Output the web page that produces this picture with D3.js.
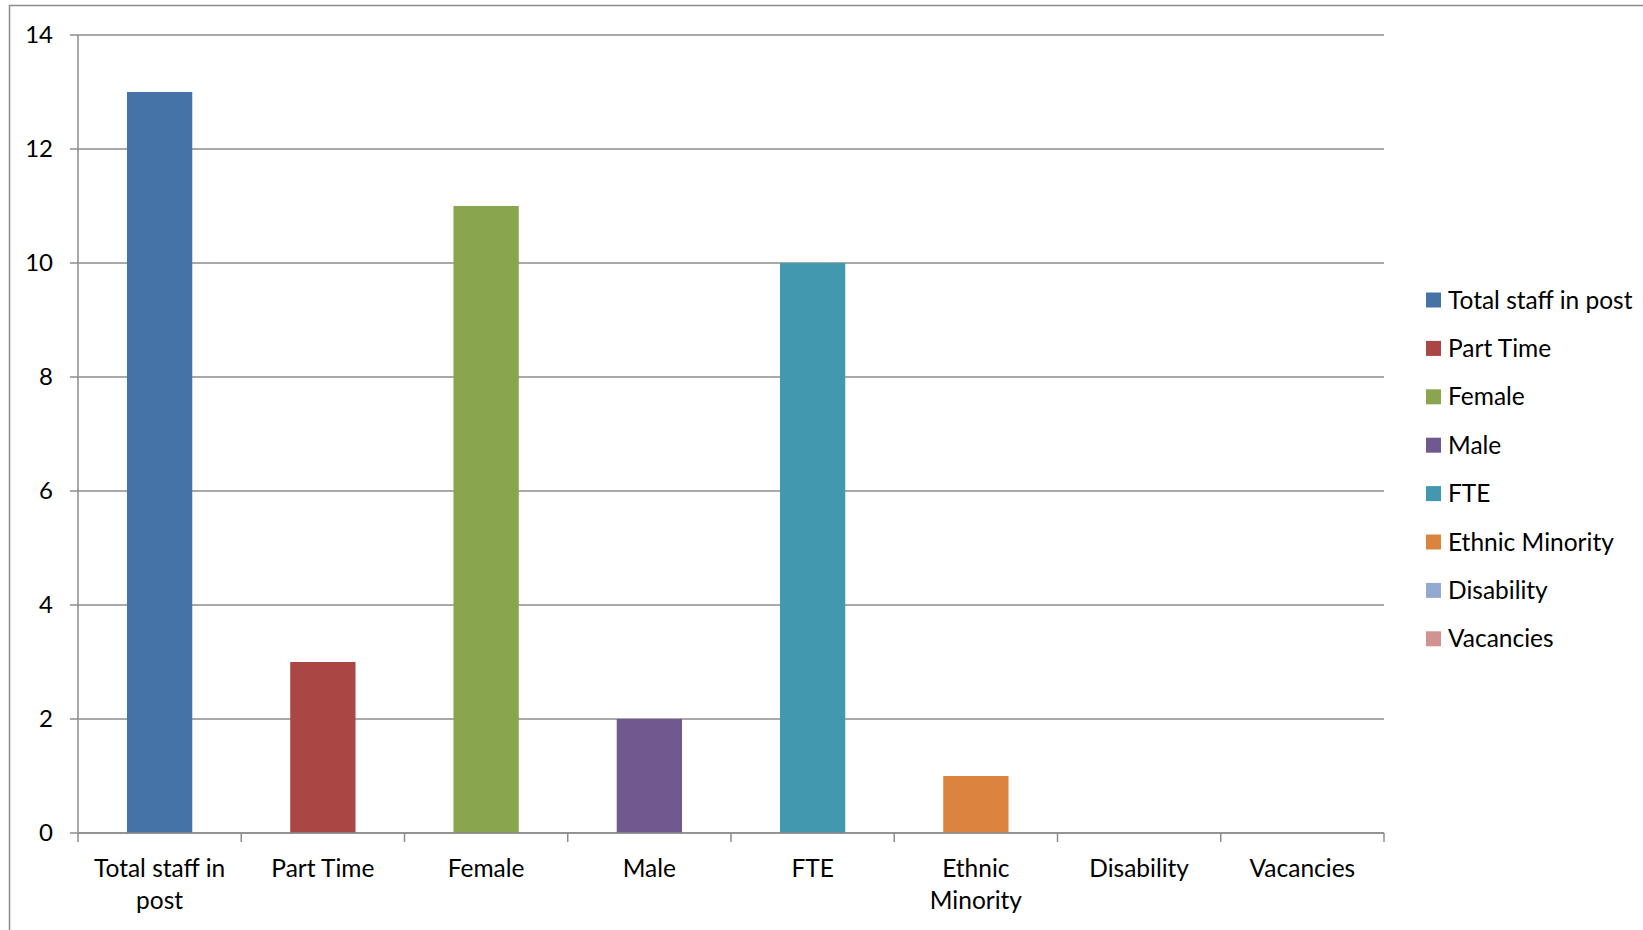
<!DOCTYPE html>
<html>
<head>
<meta charset="utf-8">
<script src="https://cdn.jsdelivr.net/npm/d3@7"></script>
<style>
  body { margin: 0; background: #fff; }
  svg { display: block; font-family: Lato, "Open Sans", sans-serif; }
</style>
</head>
<body>
<div id="chart-area"></div>
<script>
// data
var categories = ["Total staff in post", "Part Time", "Female", "Male", "FTE",
    "Ethnic Minority", "Disability", "Vacancies"];
var counts = [13, 3, 11, 2, 10, 1, 0, 0];
var colors = ["#4572A7", "#AA4643", "#89A54E", "#71588F", "#4198AF",
    "#DB843D", "#93A9CF", "#D19392"];
var yTicks = [0, 2, 4, 6, 8, 10, 12, 14];

var W = 1643, H = 930;
var margin = { left: 78, right: 259, top: 35, bottom: 97 },
    width = W - margin.left - margin.right,
    height = H - margin.top - margin.bottom;

var svg = d3.select("#chart-area")
    .append("svg")
    .attr("width", W)
    .attr("height", H);

// outer chart border (runs off the right and bottom)
svg.append("rect")
    .attr("x", 9.5).attr("y", 5.5)
    .attr("width", 1700).attr("height", 1000)
    .attr("fill", "none")
    .attr("stroke", "#8c8c8c")
    .attr("stroke-width", 1.5);

var g = svg.append("g")
    .attr("transform", "translate(" + margin.left + "," + margin.top + ")");

// Scales
var x = d3.scaleBand().domain(categories).range([0, width]).paddingInner(0.6).paddingOuter(0.3);
var xCat = d3.scaleBand().domain(categories).range([0, width]);
var y = d3.scaleLinear().domain([0, 14]).range([height, 0]);

// gridlines
g.selectAll(".grid")
    .data(yTicks)
    .enter().append("line")
    .attr("class", "grid")
    .attr("x1", -8).attr("x2", width)
    .attr("y1", function(d){ return y(d); })
    .attr("y2", function(d){ return y(d); })
    .attr("stroke", "#8c8c8c")
    .attr("stroke-width", 1.5);

// y axis labels
g.selectAll(".ylab")
    .data(yTicks)
    .enter().append("text")
    .attr("x", -25)
    .attr("y", function(d){ return y(d); })
    .attr("dy", "0.35em")
    .attr("text-anchor", "end")
    .attr("font-size", "24px")
    .attr("fill", "#000")
    .text(function(d){ return d; });

// y axis line
g.append("line")
    .attr("x1", 0).attr("x2", 0)
    .attr("y1", 0).attr("y2", height)
    .attr("stroke", "#8c8c8c").attr("stroke-width", 1.5);

// bars
g.selectAll(".bar")
    .data(categories)
    .enter().append("rect")
    .attr("class", "bar")
    .attr("x", function(d){ return x(d); })
    .attr("width", x.bandwidth())
    .attr("y", function(d, i){ return y(counts[i]); })
    .attr("height", function(d, i){ return height - y(counts[i]); })
    .attr("fill", function(d, i){ return colors[i]; });

// x axis baseline and ticks
g.append("line")
    .attr("x1", 0).attr("x2", width)
    .attr("y1", height).attr("y2", height)
    .attr("stroke", "#8c8c8c").attr("stroke-width", 1.5);
var tickPos = categories.map(function(d){ return xCat(d); }).concat([width]);
g.selectAll(".xtick")
    .data(tickPos)
    .enter().append("line")
    .attr("x1", function(d){ return d; }).attr("x2", function(d){ return d; })
    .attr("y1", height).attr("y2", height + 9)
    .attr("stroke", "#8c8c8c").attr("stroke-width", 1.5);

// x labels, wrapped like the original
var xLabelLines = [["Total staff in", "post"], ["Part Time"], ["Female"], ["Male"], ["FTE"],
    ["Ethnic", "Minority"], ["Disability"], ["Vacancies"]];
categories.forEach(function(c, i){
    var t = g.append("text")
        .attr("x", xCat(c) + xCat.bandwidth() / 2)
        .attr("y", height + 44)
        .attr("text-anchor", "middle")
        .attr("font-size", "24.5px")
        .attr("fill", "#000");
    xLabelLines[i].forEach(function(line, j){
        t.append("tspan")
            .attr("x", xCat(c) + xCat.bandwidth() / 2)
            .attr("dy", j === 0 ? 0 : 32)
            .text(line);
    });
});

// Legend
var legend = svg.append("g")
    .attr("transform", "translate(1426,300)");
var item = legend.selectAll(".item")
    .data(categories)
    .enter().append("g")
    .attr("class", "item")
    .attr("transform", function(d, i){ return "translate(0," + (i * 48.4) + ")"; });
item.append("rect")
    .attr("x", 0).attr("y", -7.5)
    .attr("width", 15).attr("height", 15)
    .attr("fill", function(d, i){ return colors[i]; });
item.append("text")
    .attr("x", 22)
    .attr("y", 0)
    .attr("dy", "0.35em")
    .attr("font-size", "24.5px")
    .attr("fill", "#000")
    .text(function(d){ return d; });
</script>
</body>
</html>
